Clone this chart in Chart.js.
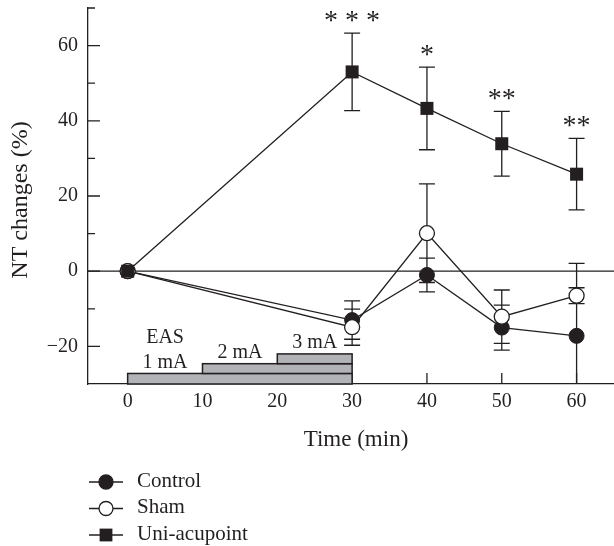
<!DOCTYPE html>
<html>
<head>
<meta charset="utf-8">
<script src="https://cdn.jsdelivr.net/npm/chart.js@4.4.1/dist/chart.umd.min.js"></script>
<style>
    html, body { margin: 0; padding: 0; background: #fff; }
</style>
</head>
<body>
<canvas id="ntChart" width="614" height="546"></canvas>
<script>
// values (NT changes, %)
const times = [0, 30, 40, 50, 60];
const controlMean = [0, -13.0, -1.0, -15.0, -17.2];
const controlErr = [0, 5.1, 4.5, 6.0, 19.3];
const shamMean = [0, -14.9, 10.1, -12.1, -6.5];
const shamErr = [0, 4.8, 13.1, 7.1, 2.1];
const uniMean = [0, 53.0, 43.3, 33.9, 25.8];
const uniErr = [0, 10.3, 11.0, 8.6, 9.5];
const sigLabels = ['', '* * *', '*', '**', '**'];

const xTicks = [0, 10, 20, 30, 40, 50, 60];
const yTicks = [-20, 0, 20, 40, 60];
const yMinorTicks = [-10, 10, 30, 50, 70];

// EAS stimulation blocks
const easLevels = ['1 mA', '2 mA', '3 mA'];
const easStart = [0, 10, 20];
const easEnd = [30, 30, 30];
const easLow = [-30, -27.2, -24.6];
const easHigh = [-27.2, -24.6, -22.0];

const ink = '#231f20';
const serif = "'Liberation Serif', 'Times New Roman', serif";

function toPoints(values) {
    return times.map((t, i) => ({ x: t, y: values[i] }));
}

const groups = [
    { label: 'Uni-acupoint', mean: uniMean, err: uniErr },
    { label: 'Sham', mean: shamMean, err: shamErr },
    { label: 'Control', mean: controlMean, err: controlErr }
];

// error bars, zero line, stimulation blocks, ticks, labels and legend
const overlay = {
    id: 'overlay',
    beforeDatasetsDraw(chart) {
        const { ctx, chartArea: a, scales: { x, y } } = chart;
        ctx.save();
        ctx.strokeStyle = ink;
        ctx.lineWidth = 1.3;

        // zero line
        const y0 = y.getPixelForValue(0);
        ctx.beginPath();
        ctx.moveTo(a.left, y0);
        ctx.lineTo(a.right, y0);
        ctx.stroke();

        // x ticks (inward)
        ctx.beginPath();
        xTicks.forEach(v => {
            const px = x.getPixelForValue(v);
            ctx.moveTo(px, a.bottom);
            ctx.lineTo(px, a.bottom - 11);
        });
        ctx.stroke();

        // EAS blocks
        ctx.lineWidth = 1.5;
        easStart.forEach((s, i) => {
            const left = x.getPixelForValue(s);
            const right = x.getPixelForValue(easEnd[i]);
            const top = y.getPixelForValue(easHigh[i]);
            const bottom = y.getPixelForValue(easLow[i]);
            ctx.fillStyle = '#b1b3b6';
            ctx.fillRect(left, top, right - left, bottom - top);
            ctx.strokeRect(left, top, right - left, bottom - top);
        });

        // error bars
        ctx.beginPath();
        ctx.rect(a.left, a.top, a.right - a.left, a.bottom - a.top);
        ctx.clip();
        ctx.lineWidth = 1.3;
        ctx.beginPath();
        groups.forEach(g => {
            times.forEach((t, i) => {
                if (!g.err[i]) return;
                const px = x.getPixelForValue(t);
                const hi = y.getPixelForValue(g.mean[i] + g.err[i]);
                const lo = y.getPixelForValue(g.mean[i] - g.err[i]);
                ctx.moveTo(px, hi);
                ctx.lineTo(px, lo);
                ctx.moveTo(px - 8, hi);
                ctx.lineTo(px + 8, hi);
                ctx.moveTo(px - 8, lo);
                ctx.lineTo(px + 8, lo);
            });
        });
        ctx.stroke();
        ctx.restore();
    },
    afterDraw(chart) {
        const { ctx, chartArea: a, scales: { x, y } } = chart;
        ctx.save();
        ctx.strokeStyle = ink;
        ctx.fillStyle = ink;
        ctx.lineWidth = 1.3;

        // y ticks (inward)
        ctx.beginPath();
        yTicks.forEach(v => {
            const py = y.getPixelForValue(v);
            ctx.moveTo(a.left, py);
            ctx.lineTo(a.left + 12, py);
        });
        yMinorTicks.forEach(v => {
            const py = y.getPixelForValue(v);
            ctx.moveTo(a.left, py);
            ctx.lineTo(a.left + 7, py);
        });
        ctx.stroke();

        // axis titles
        ctx.font = '23px ' + serif;
        ctx.textAlign = 'center';
        ctx.textBaseline = 'middle';
        ctx.fillText('Time (min)', 356, 440);
        ctx.save();
        ctx.translate(21, 200);
        ctx.rotate(-Math.PI / 2);
        ctx.font = '24px ' + serif;
        ctx.fillText('NT changes (%)', 0, 0);
        ctx.restore();

        // significance marks
        ctx.font = '28px ' + serif;
        ctx.textBaseline = 'alphabetic';
        times.forEach((t, i) => {
            if (!sigLabels[i]) return;
            const top = y.getPixelForValue(uniMean[i] + uniErr[i]);
            ctx.fillText(sigLabels[i], x.getPixelForValue(t), top - 4);
        });

        // EAS labels
        ctx.font = '20px ' + serif;
        ctx.textBaseline = 'middle';
        easLevels.forEach((lv, i) => {
            const cx = x.getPixelForValue((easStart[i] + (easStart[i + 1] ?? easEnd[i])) / 2);
            const top = y.getPixelForValue(easHigh[i]);
            ctx.fillText(lv, cx, top - 11);
            if (i === 0) ctx.fillText('EAS', cx, top - 36);
        });

        // legend
        const rows = [
            { label: 'Control', style: 'dot' },
            { label: 'Sham', style: 'ring' },
            { label: 'Uni-acupoint', style: 'square' }
        ];
        ctx.font = '21px ' + serif;
        ctx.textAlign = 'left';
        rows.forEach((r, i) => {
            const ly = 482 + i * 26.5;
            ctx.beginPath();
            ctx.moveTo(89, ly);
            ctx.lineTo(123, ly);
            ctx.stroke();
            if (r.style === 'square') {
                ctx.fillRect(106 - 6.4, ly - 6.4, 12.8, 12.8);
            } else {
                ctx.beginPath();
                ctx.arc(106, ly, 7, 0, Math.PI * 2);
                ctx.fillStyle = r.style === 'dot' ? ink : '#fff';
                ctx.fill();
                ctx.stroke();
                ctx.fillStyle = ink;
            }
            ctx.fillText(r.label, 137, ly - 1);
        });
        ctx.restore();
    }
};

const ctx = document.getElementById('ntChart').getContext('2d');
const chart = new Chart(ctx, {
    type: 'line',
    data: {
        datasets: [
            {
                label: 'Uni-acupoint',
                data: toPoints(uniMean),
                borderColor: ink,
                borderWidth: 1.3,
                pointStyle: 'rect',
                pointRadius: 9.2,
                pointBackgroundColor: ink,
                pointBorderColor: ink,
                pointBorderWidth: 0
            },
            {
                label: 'Sham',
                data: toPoints(shamMean),
                borderColor: ink,
                borderWidth: 1.3,
                pointStyle: 'circle',
                pointRadius: 7.5,
                pointBackgroundColor: '#fff',
                pointBorderColor: ink,
                pointBorderWidth: 1.3
            },
            {
                label: 'Control',
                data: toPoints(controlMean),
                borderColor: ink,
                borderWidth: 1.3,
                pointStyle: 'circle',
                pointRadius: 7.5,
                pointBackgroundColor: ink,
                pointBorderColor: ink,
                pointBorderWidth: 1
            }
        ]
    },
    options: {
        responsive: false,
        animation: false,
        devicePixelRatio: 1,
        layout: { autoPadding: false, padding: { top: 8, right: 0, left: 0, bottom: 0 } },
        plugins: {
            legend: { display: false },
            tooltip: { enabled: false }
        },
        scales: {
            x: {
                type: 'linear',
                min: -5.3,
                max: 65,
                afterBuildTicks: scale => { scale.ticks = xTicks.map(v => ({ value: v })); },
                afterFit: scale => {
                    scale.height = 546 - 384;
                    scale.paddingLeft = 0;
                    scale.paddingRight = 0;
                },
                grid: { display: false, drawTicks: false },
                border: { display: true, color: ink, width: 1.3 },
                ticks: {
                    padding: 6,
                    color: ink,
                    font: { family: serif, size: 20 },
                    maxRotation: 0
                }
            },
            y: {
                min: -30,
                max: 70,
                afterBuildTicks: scale => { scale.ticks = yTicks.map(v => ({ value: v })); },
                afterFit: scale => {
                    scale.width = 88;
                    scale.paddingTop = 0;
                    scale.paddingBottom = 0;
                },
                grid: { display: false, drawTicks: false },
                border: { display: true, color: ink, width: 1.3 },
                ticks: {
                    padding: 10,
                    color: ink,
                    font: { family: serif, size: 20 },
                    callback: v => (v < 0 ? '\u2212' + Math.abs(v) : String(v))
                }
            }
        }
    },
    plugins: [overlay]
});
</script>
</body>
</html>
